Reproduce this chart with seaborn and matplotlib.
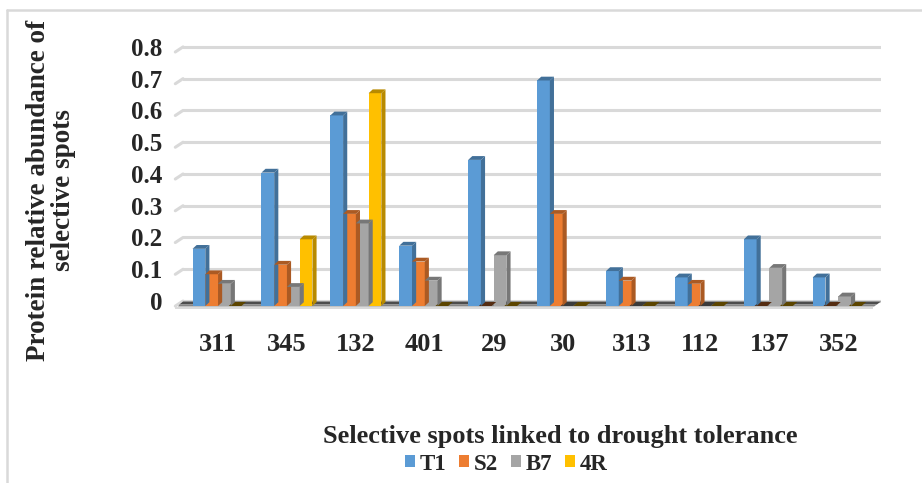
import matplotlib
matplotlib.use("Agg")
import matplotlib.pyplot as plt
import matplotlib.transforms as mtransforms
from matplotlib.patches import Polygon, Rectangle, Patch
from matplotlib.lines import Line2D
import seaborn as sns
import pandas as pd

# Spot identifiers and relative abundance per genotype
spots = ["311", "345", "132", "401", "29", "30", "313", "112", "137", "352"]
t1 = [0.18, 0.42, 0.60, 0.19, 0.46, 0.71, 0.11, 0.09, 0.21, 0.09]
s2 = [0.10, 0.13, 0.29, 0.14, 0.00, 0.29, 0.08, 0.07, 0.00, 0.00]
b7 = [0.07, 0.06, 0.26, 0.08, 0.16, 0.00, 0.00, 0.00, 0.12, 0.03]
r4 = [0.00, 0.21, 0.67, 0.00, 0.00, 0.00, 0.00, 0.00, 0.00, 0.00]
series = ["T1", "S2", "B7", "4R"]
y_ticks = [0, 0.1, 0.2, 0.3, 0.4, 0.5, 0.6, 0.7, 0.8]

colors = ["#5B9BD5", "#ED7D31", "#A5A5A5", "#FFC000"]

df = pd.DataFrame({
    "spot": spots * 4,
    "genotype": sum([[s] * len(spots) for s in series], []),
    "value": t1 + s2 + b7 + r4,
})

sns.set_theme(style="white")
plt.rcParams["font.family"] = ["Liberation Serif", "DejaVu Serif"]
plt.rcParams["font.weight"] = "bold"

fig = plt.figure(figsize=(9.22, 4.83), dpi=100)
ax = fig.add_axes([0.1985, 1 - 311 / 483, 0.757, 266 / 483])

sns.barplot(data=df, x="spot", y="value", hue="genotype", order=spots,
            hue_order=series, palette=colors, width=0.74, saturation=1,
            linewidth=0, legend=False, ax=ax, zorder=3)

ax.set_xlim(-0.508, 9.62)
ax.set_ylim(-0.0315, 0.806)
px = 1 / 317.5  # one pixel in data units on the value axis

# columns stand on the front edge of the floor, slightly below the back wall
front = ax.transData + mtransforms.ScaledTranslation(0, -0.05, fig.dpi_scale_trans)

# back-wall gridlines with a short slanted stub on the side wall
for yv in y_ticks:
    ax.axhline(yv, color="#d9d9d9", lw=2.2, zorder=1)
    ax.plot([-0.62, -0.508], [yv - 0.016, yv], color="#d9d9d9", lw=2.2,
            clip_on=False, zorder=1)

# floor of the 3-D box: dark top surface, lighter front edge, pale shadow
ax.add_patch(Polygon([(-0.508, -0.5 * px), (9.62, -0.5 * px),
                      (9.56, -3.5 * px), (-0.56, -3.5 * px)],
                     closed=True, fc="#4d4d4d", lw=0, zorder=2, clip_on=False))
ax.add_patch(Polygon([(-0.56, -3.5 * px), (9.56, -3.5 * px),
                      (9.52, -5.5 * px), (-0.58, -5.5 * px)],
                     closed=True, fc="#858585", lw=0, zorder=2, clip_on=False))
ax.add_patch(Rectangle((-0.62, -8.5 * px), 10.13, 2 * px, fc="#dadada",
                       lw=0, zorder=2, clip_on=False))

# side and top faces give each column some depth
dx, dy = 0.06, 0.012
for bar in list(ax.patches):
    if not isinstance(bar, Rectangle):
        continue
    x0, w, h = bar.get_x(), bar.get_width(), bar.get_height()
    if w <= 0 or w > 0.5:
        continue
    bar.set_transform(front)
    fc = bar.get_facecolor()
    x1 = x0 + w
    dark = tuple(c * 0.72 for c in fc[:3])
    flat = tuple(c * 0.36 for c in fc[:3])
    if h <= 0.001:
        # an empty value shows as a flat tile lying on the floor
        ax.add_patch(Polygon([(x0 - 0.03, 0), (x1 - 0.03, 0),
                              (x1 + dx * 0.6, 4 * px), (x0 + dx * 0.6, 4 * px)],
                             closed=True, fc=flat, ec="none", zorder=3,
                             transform=front))
        continue
    ax.add_patch(Polygon([(x1, 0), (x1 + dx, dy), (x1 + dx, h + dy), (x1, h)],
                         closed=True, fc=dark, ec="none", zorder=4, transform=front))
    ax.add_patch(Polygon([(x0, h), (x1, h), (x1 + dx, h + dy), (x0 + dx, h + dy)],
                         closed=True, fc=dark, ec="none", zorder=4, transform=front))

ax.set_yticks(y_ticks)
ax.set_yticklabels([f"{v:g}" for v in y_ticks])
ax.tick_params(axis="y", length=0, pad=15, labelsize=18)
ax.tick_params(axis="x", length=0, pad=16, labelsize=19)
for lbl in ax.get_xticklabels() + ax.get_yticklabels():
    lbl.set_fontweight("bold")
ax.set_xlabel("")
ax.set_ylabel("")
for sp in ax.spines.values():
    sp.set_visible(False)
ax.set_facecolor("none")

fig.text(51 / 922, 1 - 190 / 483, "Protein relative abundance of\nselective spots",
         rotation=90, ha="center", va="center", multialignment="center",
         fontsize=19.5, fontweight="bold", linespacing=1.0)
fig.text(560 / 922, 1 - 437 / 483, "Selective spots linked to drought tolerance",
         ha="center", va="center", fontsize=19, fontweight="bold")

handles = [Patch(facecolor=c, edgecolor="none") for c in colors]
fig.legend(handles, series, loc="center", bbox_to_anchor=(506 / 922, 1 - 464 / 483),
           ncol=4, frameon=False, handlelength=0.45, handleheight=0.45,
           handletextpad=0.2, columnspacing=0.55, borderpad=0, borderaxespad=0,
           prop={"family": "Liberation Serif", "weight": "bold", "size": 16.5})

# chart-area border (top and left edges)
fig.add_artist(Line2D([7 / 922, 1], [1 - 10 / 483, 1 - 10 / 483],
                      color="#d9d9d9", lw=1.8, transform=fig.transFigure))
fig.add_artist(Line2D([7 / 922, 7 / 922], [0, 1 - 10 / 483],
                      color="#d9d9d9", lw=1.8, transform=fig.transFigure))

fig.savefig("out.png", dpi=100)
